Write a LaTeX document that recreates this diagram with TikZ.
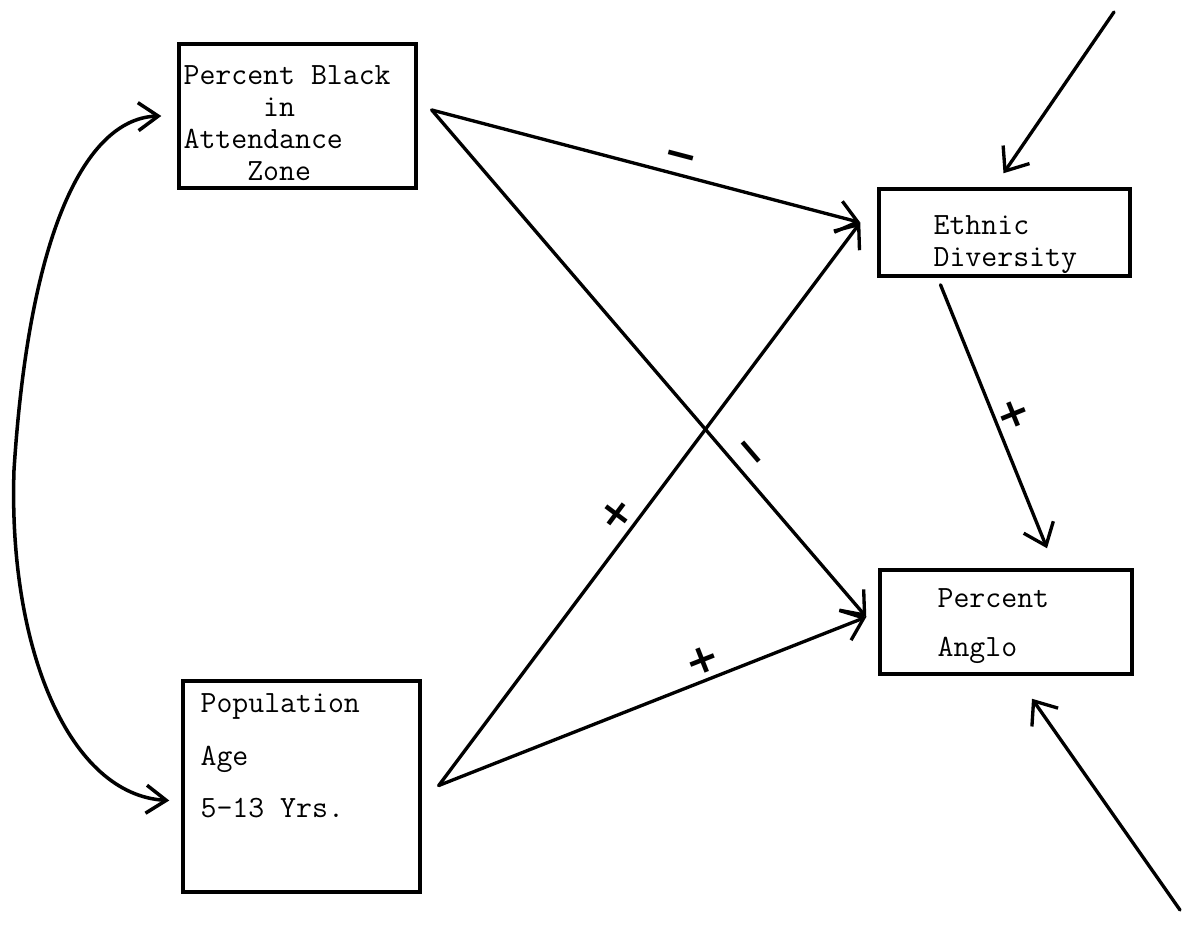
\documentclass[tikz,border=0pt]{standalone}
\usepackage{fontspec}
\newfontfamily\signfont{DejaVu Sans}
\usetikzlibrary{arrows.meta, calc}
\tikzset{
    my-var-box/.style={
        draw, shape=rectangle, line width=2pt, inner sep=0pt
    },
    my-var-text/.style={
        font=\ttfamily\fontsize{17.6}{18.2}\selectfont, align=left, inner sep=0pt, anchor=north west
    },
    my-path/.style={
        line width=1.9pt, line cap=round, line join=round, -{Straight Barb[length=4mm, width=6.4mm]}
    },
    my-curve/.style={
        line width=2pt, line cap=round, {Straight Barb[length=4mm, width=5.6mm]}-{Straight Barb[length=4mm, width=5.6mm]}
    },
    my-sign/.style={
        font=\signfont\bfseries\fontsize{23}{24}\selectfont, inner sep=0pt, sloped, above=3pt
    },
}

\begin{document}
\begin{tikzpicture}[x=0.02cm, y=-0.02cm]

        \useasboundingbox (0, 0) rectangle (1186, 926);

        % VARIABLE BOXES ------------------------------------------------------------------------------
        \node[my-var-box, minimum width=4.74cm, minimum height=2.88cm] (PCTBLACK) at (297.5, 116)  {};
        \node[my-var-box, minimum width=5.02cm, minimum height=1.74cm] (ETHDIV)   at (1004.5, 232.5) {};
        \node[my-var-box, minimum width=5.04cm, minimum height=2.08cm] (PCTANGLO) at (1006, 622)   {};
        \node[my-var-box, minimum width=4.74cm, minimum height=4.22cm] (POPAGE)   at (301.5, 786.5) {};

        % BOX TEXTS
        \node[my-var-text] (PCTBLACKTXT) at ($(PCTBLACK.north west) + (6, 23)$)
            {Percent Black\\\phantom{00000}in\\Attendance\\\phantom{0000}Zone};
        \node[my-var-text] (ETHDIVTXT)   at ($(ETHDIV.north west) + (56, 28)$)
            {Ethnic\\Diversity};
        \node[my-var-text, font=\ttfamily\fontsize{17.6}{28}\selectfont] (PCTANGLOTXT) at ($(PCTANGLO.north west) + (59, 20)$)
            {Percent\\Anglo};
        \node[my-var-text, font=\ttfamily\fontsize{17.6}{30}\selectfont] (POPAGETXT)   at ($(POPAGE.north west) + (19, 14)$)
            {Population\\Age\\5-13 Yrs.};

        % CONNECTOR POINTS
        \coordinate (PCTBLACKOUT)  at ($(PCTBLACK.east) + (14, -6)$);
        \coordinate (POPAGEOUT)    at ($(POPAGE.east) + (17, -1)$);
        \coordinate (ETHDIVIN)     at ($(ETHDIV.west) + (-17, -10)$);
        \coordinate (PCTANGLOIN)   at ($(PCTANGLO.west) + (-12, -5)$);
        \coordinate (ETHDIVOUT)    at ($(ETHDIV.south) + (-64, 7)$);
        \coordinate (PCTANGLOTOP)  at ($(PCTANGLO.north) + (41, -20)$);
        \coordinate (ETHDIVTOP)    at ($(ETHDIV.north) + (-1, -14)$);
        \coordinate (PCTANGLOBOT)  at ($(PCTANGLO.south) + (26, 23)$);
        \coordinate (PCTBLACKLEFT) at ($(PCTBLACK.west) + (-16, 0)$);
        \coordinate (POPAGELEFT)   at ($(POPAGE.west) + (-12, 14)$);
        \coordinate (ERRTOP)       at (1114, 12);
        \coordinate (ERRBOT)       at (1180, 910);

        % CORRELATION CURVE
        \draw[my-curve] (PCTBLACKLEFT) .. controls (90, 118) and (30, 220) .. (14, 470)
                                       .. controls (8, 650) and (70, 795) .. (POPAGELEFT);

        % CAUSAL PATHS AND SIGNS
        \draw[my-path] (PCTBLACKOUT) -- (ETHDIVIN)    node[my-sign, pos=0.57]  (SIGN1) {−};
        \draw[my-path] (PCTBLACKOUT) -- (PCTANGLOIN)  node[my-sign, pos=0.70]  (SIGN2) {−};
        \draw[my-path] (POPAGEOUT)   -- (ETHDIVIN)    node[my-sign, pos=0.46]  (SIGN3) {+};
        \draw[my-path] (POPAGEOUT)   -- (PCTANGLOIN)  node[my-sign, pos=0.635] (SIGN4) {+};
        \draw[my-path] (ETHDIVOUT)   -- (PCTANGLOTOP) node[my-sign, pos=0.52]  (SIGN5) {+};

        % RESIDUAL PATHS
        \draw[my-path] (ERRTOP) -- (ETHDIVTOP);
        \draw[my-path] (ERRBOT) -- (PCTANGLOBOT);

    \end{tikzpicture}
\end{document}
